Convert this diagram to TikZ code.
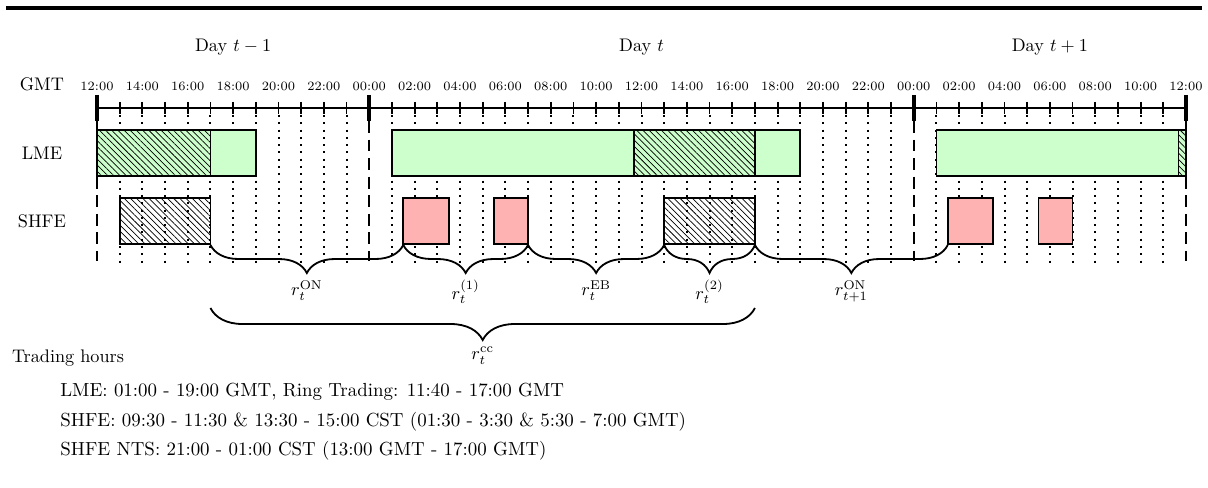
\documentclass[tikz,border=0pt]{standalone}
\usetikzlibrary{patterns.meta,decorations.pathreplacing,calc}
\definecolor{lmegreen}{RGB}{204,255,204}
\definecolor{shfered}{RGB}{255,178,178}
\begin{document}
\begin{tikzpicture}[x=0.5495pt,y=-0.5495pt,
  declare function={hx(\h)=97+22.6875*\h;},
  box/.style={draw=black,line width=1pt},
  lmebox/.style={box,fill=lmegreen},
  shfebox/.style={box,fill=shfered},
  hatch/.style={pattern={Lines[angle=-45,distance=2.4pt,line width=0.4pt]},pattern color=black},
  hourdots/.style={line width=1.1pt,dash pattern=on 1.1pt off 2.9pt},
  daydash/.style={line width=1pt,dash pattern=on 6.5pt off 3.7pt},
  minortick/.style={line width=1pt},
  majortick/.style={line width=2pt},
  ticklabel/.style={font=\fontsize{7}{8.5}\selectfont,anchor=base,inner sep=0pt},
  rowlabel/.style={anchor=base,inner sep=0pt},
  txt/.style={anchor=base west,inner sep=0pt},
  infotxt/.style={txt,font=\fontsize{10.4}{12.5}\selectfont},
  brc/.style={decorate,decoration={brace,mirror,amplitude=15.4pt},line width=1pt},
  bigbrc/.style={decorate,decoration={brace,mirror,amplitude=17.6pt},line width=1pt},
  brlabel/.style={anchor=north},
]
\useasboundingbox (0,0) rectangle (1208,488);

% top rule
\draw[line width=1.9pt] (6,8) -- (1202,8);

% day labels
\node[rowlabel] (dayA) at ({hx(6)},52) {Day $t-1$};
\node[rowlabel] (dayB) at ({hx(24)},52) {Day $t$};
\node[rowlabel] (dayC) at ({hx(42)},52) {Day $t+1$};

% row labels
\node[rowlabel] (gmt) at (42,91) {GMT};
\node[rowlabel] (lme) at (42,160) {LME};
\node[rowlabel] (shfe) at (42,228) {SHFE};

% tick labels
\foreach \h in {0,2,...,48}{
  \pgfmathtruncatemacro\hh{mod(12+\h,24)}
  \node[ticklabel] (tl\h) at ({hx(\h)},91) {\ifnum\hh<10 0\fi\hh:00};
}

% hourly dotted guides
\foreach \h in {1,...,11,13,14,...,35,37,38,...,47}{
  \draw[hourdots] ({hx(\h)},115) -- ({hx(\h)},267);
}
% day boundaries
\foreach \h in {0,12,36,48}{
  \draw[daydash] ({hx(\h)},121) -- ({hx(\h)},261);
}

% LME sessions
\draw[lmebox] ({hx(0)},130) rectangle ({hx(7)},176);
\draw[box,hatch] ({hx(0)},130) rectangle ({hx(5)},176);
\draw[lmebox] ({hx(13)},130) rectangle ({hx(31)},176);
\draw[box,hatch] ({hx(23+2/3)},130) rectangle ({hx(29)},176);
\draw[lmebox] ({hx(37)},130) rectangle ({hx(48)},176);
\draw[box,hatch] ({hx(47+2/3)},130) rectangle ({hx(48)},176);

% SHFE sessions
\draw[box,hatch] ({hx(1)},198) rectangle ({hx(5)},244);
\draw[shfebox] ({hx(13.5)},198) rectangle ({hx(15.5)},244);
\draw[shfebox] ({hx(17.5)},198) rectangle ({hx(19)},244);
\draw[box,hatch] ({hx(25)},198) rectangle ({hx(29)},244);
\draw[shfebox] ({hx(37.5)},198) rectangle ({hx(39.5)},244);
\draw[shfebox] ({hx(41.5)},198) rectangle ({hx(43)},244);

% time axis
\draw[line width=1.1pt] ({hx(0)},108) -- ({hx(48)},108);
\foreach \h in {1,...,11,13,14,...,35,37,38,...,47}{
  \draw[minortick] ({hx(\h)},102) -- ({hx(\h)},114);
}
\foreach \h in {0,12,36,48}{
  \draw[majortick] ({hx(\h)},95) -- ({hx(\h)},121);
}

% braces
\coordinate (b0) at ({hx(5)},245);
\coordinate (b1) at ({hx(13.5)},245);
\coordinate (b2) at ({hx(19)},245);
\coordinate (b3) at ({hx(25)},245);
\coordinate (b4) at ({hx(29)},245);
\coordinate (b5) at ({hx(37.5)},245);
\draw[brc] (b0) -- (b1);
\draw[brc] (b1) -- (b2);
\draw[brc] (b2) -- (b3);
\draw[brc] (b3) -- (b4);
\draw[brc] (b4) -- (b5);
\node[brlabel] (rON) at ($(b0)!0.5!(b1)+(0,29)$) {$r_t^{\mathrm{ON}}$};
\node[brlabel] (r1) at ($(b1)!0.5!(b2)+(0,29)$) {$r_t^{(1)}$};
\node[brlabel] (rEB) at ($(b2)!0.5!(b3)+(0,29)$) {$r_t^{\mathrm{EB}}$};
\node[brlabel] (r2) at ($(b3)!0.5!(b4)+(0,29)$) {$r_t^{(2)}$};
\node[brlabel] (rON1) at ($(b4)!0.5!(b5)+(0,29)$) {$r_{t+1}^{\mathrm{ON}}$};

\coordinate (c0) at ({hx(5)},308);
\coordinate (c1) at ({hx(29)},308);
\draw[bigbrc] (c0) -- (c1);
\node[brlabel] (rcc) at ($(c0)!0.5!(c1)+(0,33)$) {$r_t^{\mathrm{cc}}$};

% trading hours
\node[txt] (th) at (11.7,363) {Trading hours};
\node[infotxt] (l1) at (60,397) {LME: 01:00 - 19:00 GMT, Ring Trading: 11:40 - 17:00 GMT};
\node[infotxt] (l2) at (60,426.5) {SHFE: 09:30 - 11:30 \& 13:30 - 15:00 CST (01:30 - 3:30 \& 5:30 - 7:00 GMT)};
\node[infotxt] (l3) at (60,456) {SHFE NTS: 21:00 - 01:00 CST (13:00 GMT - 17:00 GMT)};
\end{tikzpicture}
\end{document}
